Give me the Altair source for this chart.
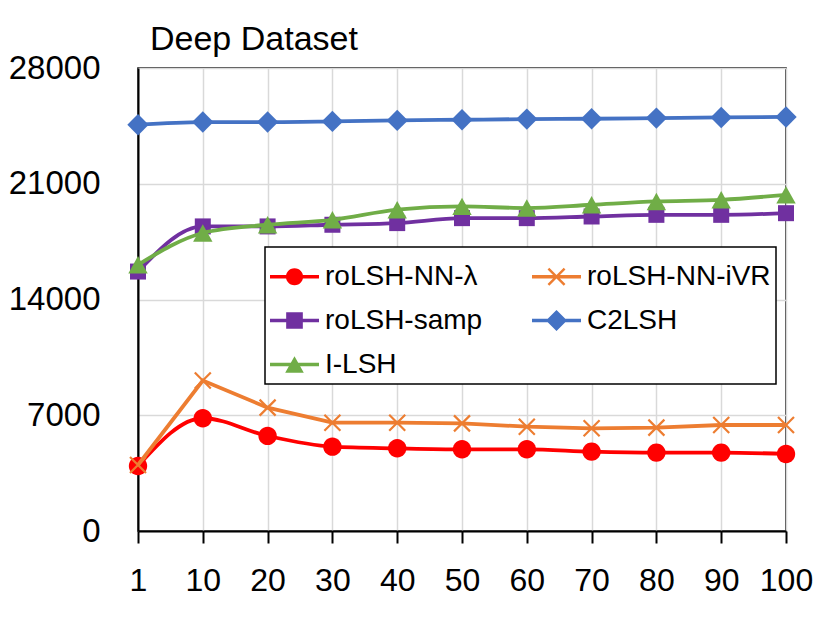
import math
import altair as alt
import pandas as pd

x_labels = ["1", "10", "20", "30", "40", "50", "60", "70", "80", "90", "100"]
series_names = ["roLSH-NN-λ", "roLSH-NN-iVR", "roLSH-samp", "C2LSH", "I-LSH"]
series_colors = ["#FF0000", "#ED7D31", "#7030A0", "#4472C4", "#70AD47"]

nn_lambda = [3930, 6820, 5750, 5100, 5000, 4940, 4940, 4800, 4740, 4740, 4660]
nn_ivr = [3990, 9100, 7460, 6550, 6550, 6510, 6310, 6210, 6250, 6410, 6410]
samp = [15690, 18420, 18420, 18520, 18620, 18920, 18920, 19020, 19120, 19120, 19220]
c2lsh = [24570, 24730, 24730, 24770, 24830, 24870, 24910, 24930, 24970, 25010, 25040]
ilsh = [16100, 18020, 18520, 18820, 19430, 19630, 19530, 19730, 19930, 20030, 20330]

y_ticks = [0, 7000, 14000, 21000, 28000]

all_values = [nn_lambda, nn_ivr, samp, c2lsh, ilsh]
rows = []
for name, vals in zip(series_names, all_values):
    for xl, v in zip(x_labels, vals):
        rows.append({"x": xl, "value": v, "series": name})
df = pd.DataFrame(rows)

# ---- symbol path helpers (style only) ----
def poly(pts):
    area = 0.0
    for i in range(len(pts)):
        x1, y1 = pts[i]
        x2, y2 = pts[(i + 1) % len(pts)]
        area += x1 * y2 - x2 * y1
    if area < 0:
        pts = list(reversed(pts))
    return "M" + "L".join(f"{px:.4f},{py:.4f}" for px, py in pts) + "Z"

def circle(r, n=28):
    return poly([(r * math.cos(2 * math.pi * k / n), r * math.sin(2 * math.pi * k / n)) for k in range(n)])

def square(h):
    return poly([(-h, -h), (h, -h), (h, h), (-h, h)])

def diamond(h):
    return poly([(0, -h), (h, 0), (0, h), (-h, 0)])

def triangle(w, h):
    return poly([(0, -h), (w, h), (-w, h)])

def xmark(a, t):
    s = t / math.sqrt(2)
    b1 = poly([(-a + s, -a - s), (a + s, a - s), (a - s, a + s), (-a - s, -a + s)])
    b2 = poly([(-a - s, a - s), (a - s, -a - s), (a + s, -a + s), (-a + s, a + s)])
    return b1 + b2

def hline(t):
    return poly([(-1, -t), (1, -t), (1, t), (-1, t)])

marker_paths = [circle(0.92), xmark(0.8, 0.11), square(0.8), diamond(1.07), triangle(0.97, 0.87)]
lt = 0.07
legend_paths = [
    hline(lt) + circle(0.35),
    hline(lt) + xmark(0.33, 0.05),
    hline(lt) + square(0.34),
    hline(lt) + diamond(0.43),
    hline(lt) + triangle(0.38, 0.34),
]
interps = ["monotone", "linear", "monotone", "monotone", "monotone"]

# legend is filled column by column (3 rows), so list it in that order
legend_order = [0, 2, 4, 1, 3]
legend_domain = [series_names[i] for i in legend_order]
legend_colors = [series_colors[i] for i in legend_order]
legend_shapes = [legend_paths[i] for i in legend_order]

FONT = "Liberation Sans"

x_enc = alt.X(
    "x:O",
    sort=x_labels,
    scale=alt.Scale(padding=0),
    axis=alt.Axis(
        title=None, labelAngle=0, labelFontSize=32, labelFont=FONT, labelColor="black",
        domainColor="black", domainWidth=2, tickColor="black", tickWidth=2, tickSize=12,
        labelPadding=22, grid=True, gridColor="#d9d9d9", gridWidth=1.5,
    ),
)
y_enc = alt.Y(
    "value:Q",
    scale=alt.Scale(domain=[0, 28000], nice=False),
    axis=alt.Axis(
        title=None, values=y_ticks, format="d", labelFontSize=33, labelFont=FONT,
        labelColor="black", domainColor="black", domainWidth=2, ticks=False,
        labelPadding=38, grid=True, gridColor="#d9d9d9", gridWidth=1.5, labelFlush=False,
    ),
)

base = alt.Chart(df)
layers = []
for name, col, mp, ip in zip(series_names, series_colors, marker_paths, interps):
    sub = base.transform_filter(alt.datum.series == name)
    layers.append(
        sub.mark_line(color=col, strokeWidth=3.8, interpolate=ip).encode(x=x_enc, y=y_enc)
    )
    layers.append(
        sub.mark_point(shape=mp, filled=True, size=400, color=col, opacity=1, strokeWidth=0).encode(x=x_enc, y=y_enc)
    )

legend_cfg = alt.Legend(
    title=None, orient="none", legendX=127, legendY=179, columns=2, columnPadding=49,
    rowPadding=5, padding=5, strokeColor="black", fillColor="white",
    symbolSize=2401, symbolStrokeWidth=0, symbolOpacity=1,
    labelFontSize=28, labelFont=FONT, labelColor="black", labelLimit=400, labelOffset=6,
)
legend_layer = base.transform_filter("false").mark_point(filled=True, opacity=1).encode(
    x=x_enc,
    y=y_enc,
    color=alt.Color("series:N", scale=alt.Scale(domain=legend_domain, range=legend_colors), legend=legend_cfg),
    shape=alt.Shape("series:N", scale=alt.Scale(domain=legend_domain, range=legend_shapes), legend=legend_cfg),
)
layers.append(legend_layer)

chart = alt.layer(*layers).properties(
    width=648,
    height=463,
    padding={"left": 130, "top": 60, "right": 37, "bottom": 91},
    autosize=alt.AutoSizeParams(type="none"),
    title=alt.TitleParams(
        "Deep Dataset", anchor="start", frame="group", fontSize=34, font=FONT,
        fontWeight="normal", color="black", dx=12, dy=34, offset=2, baseline="alphabetic",
    ),
).configure_view(stroke="black", strokeWidth=1.5).configure_legend(strokeWidth=1.5)

chart.save("out.html", embed_options={"renderer": "svg", "actions": False})
